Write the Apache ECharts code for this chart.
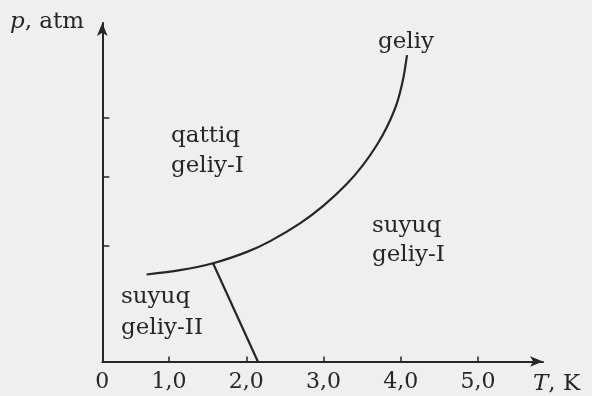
<!DOCTYPE html>
<html>
<head>
<meta charset="utf-8">
<script src="https://cdn.jsdelivr.net/npm/echarts@6/dist/echarts.min.js"></script>
<style>
  html, body { margin: 0; padding: 0; background: #efefef; }
  #chart { width: 592px; height: 396px; }
</style>
</head>
<body>
<div id="chart"></div>
<script>
// Helium phase diagram: melting curve and lambda line
const meltT = [0.71, 1.14, 1.57, 2.01, 2.31, 2.70, 3.00, 3.30, 3.51, 3.69, 3.82, 3.95, 4.03, 4.08];
const meltP = [8.7, 9.13, 9.82, 10.96, 12.04, 13.84, 15.58, 17.74, 19.63, 21.65, 23.44, 25.84, 28.24, 30.64];
const lambdaT = [1.57, 2.15];
const lambdaP = [9.82, 0];
const xTicks = [1, 2, 3, 4, 5];
const yTicks = [11.55, 18.45, 24.35];
const xMin = 0.137, xMax = 5.84;
const yMin = 0, yMax = 33.85;

const FONT = '"DejaVu Serif", serif';
const INK = '#262626';

const chart = echarts.init(document.getElementById('chart'), null, { renderer: 'canvas' });

function pairs(xs, ys) { return xs.map((x, i) => [x, ys[i]]); }

function txt(x, y, text, lh) {
  return {
    type: 'text', left: x, top: y, silent: true,
    style: { text: text, font: '23px ' + FONT, fill: INK, lineHeight: lh || 30,
      rich: { i: { fontStyle: 'italic', fontSize: 23, fontFamily: FONT, fill: INK, lineHeight: lh || 30 },
              n: { fontSize: 23, fontFamily: FONT, fill: INK, lineHeight: lh || 30 } } }
  };
}

chart.setOption({
  backgroundColor: '#efefef',
  animation: false,
  grid: { left: 102.3, right: 49, top: 23, bottom: 34.5 },
  xAxis: {
    type: 'value', min: xMin, max: xMax,
    axisLine: { show: true, symbol: ['none', 'arrow'], symbolSize: [8, 13], lineStyle: { color: INK, width: 2 } },
    axisTick: { show: true, inside: true, length: 5, customValues: xTicks, lineStyle: { color: INK, width: 1.5 } },
    axisLabel: {
      customValues: [xMin].concat(xTicks), margin: 10,
      formatter: v => (v < 0.5 ? '0' : v.toFixed(1).replace('.', ',')),
      color: INK, fontSize: 22, fontFamily: FONT
    },
    splitLine: { show: false }
  },
  yAxis: {
    type: 'value', min: yMin, max: yMax,
    axisLine: { show: true, symbol: ['none', 'arrow'], symbolSize: [8, 13], lineStyle: { color: INK, width: 2 } },
    axisTick: { show: true, inside: true, length: 7, customValues: yTicks, lineStyle: { color: INK, width: 1.5 } },
    axisLabel: { show: false },
    splitLine: { show: false }
  },
  series: [
    {
      type: 'line', data: pairs(meltT, meltP), smooth: 0.3, symbol: 'none',
      lineStyle: { color: INK, width: 2.2 }
    },
    {
      type: 'line', data: pairs(lambdaT, lambdaP), symbol: 'none',
      lineStyle: { color: INK, width: 2.2 }
    }
  ],
  graphic: [
    txt(10, 7, '{i|p}{n|, atm}'),
    txt(533, 369, '{i|T}{n|, K}'),
    txt(378, 27, 'geliy'),
    txt(171, 121, 'qattiq\ngeliy-I'),
    txt(372, 212, 'suyuq\ngeliy-I', 29),
    txt(121, 282, 'suyuq\ngeliy-II', 31)
  ]
});
</script>
</body>
</html>
